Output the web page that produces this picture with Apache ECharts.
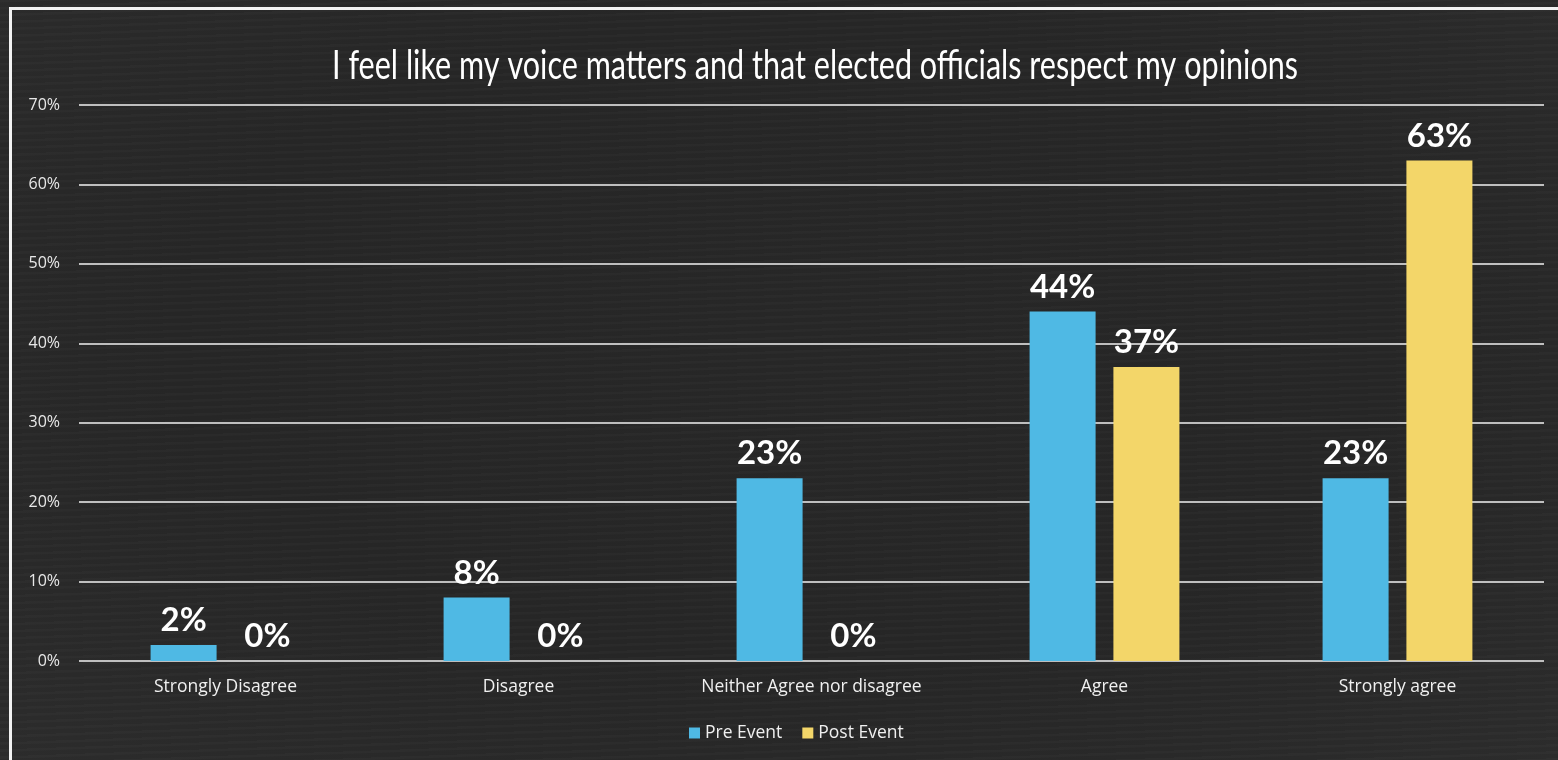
<!DOCTYPE html>
<html>
<head>
<meta charset="utf-8">
<script src="https://cdn.jsdelivr.net/npm/echarts@6/dist/echarts.min.js"></script>
<style>
  html, body { margin: 0; padding: 0; width: 1558px; height: 760px; overflow: hidden;
    background:
      repeating-linear-gradient(178deg, rgba(255,255,255,0.018) 0px, rgba(255,255,255,0.018) 2px, rgba(0,0,0,0) 3px, rgba(0,0,0,0) 7px),
      radial-gradient(ellipse at 50% 45%, #272727 0%, #262626 55%, #2c2c2c 100%); }
  #frame { position: absolute; left: 9px; top: 7px; width: 1580px; height: 800px;
    border: 3px solid #f2f2f2; box-sizing: border-box; }
  #chart { position: absolute; left: 0; top: 0; width: 1558px; height: 760px; }
</style>
</head>
<body>
<div id="frame"></div>
<div id="chart"></div>
<script>
const titleText = 'I feel like my voice matters and that elected officials respect my opinions';
const categories = ['Strongly Disagree', 'Disagree', 'Neither Agree nor disagree', 'Agree', 'Strongly agree'];
const seriesNames = ['Pre Event', 'Post Event'];
const preEvent = [2, 8, 23, 44, 23];
const postEvent = [0, 0, 0, 37, 63];
const yTicks = { min: 0, max: 70, interval: 10 };

// condensed title: measure the natural width and squeeze horizontally to the reference width
const titleFont = '40px Lato';
const mctx = document.createElement('canvas').getContext('2d');
mctx.font = titleFont;
const titleNatural = mctx.measureText(titleText).width;
const titleScale = 966 / titleNatural;

const chart = echarts.init(document.getElementById('chart'), null, { renderer: 'canvas' });
const labelStyle = {
  show: true, position: 'top', distance: 8,
  formatter: '{c}%', color: '#ffffff', fontSize: 33, fontWeight: 'bold',
  fontFamily: 'Lato'
};
chart.setOption({
  backgroundColor: 'transparent',
  animation: false,
  graphic: [{
    type: 'text', x: 815, y: 66, scaleX: titleScale,
    style: { text: titleText, font: titleFont, fill: '#ffffff', align: 'center', verticalAlign: 'middle' }
  }],
  legend: {
    data: seriesNames, bottom: 13, left: 684,
    itemWidth: 11, itemHeight: 11, itemGap: 20, icon: 'rect',
    textStyle: { color: '#f0f0f0', fontSize: 17.5, fontFamily: 'Open Sans' }
  },
  grid: { left: 79, right: 14, top: 105, bottom: 99, containLabel: false },
  xAxis: {
    type: 'category', data: categories,
    axisLine: { show: false }, axisTick: { show: false },
    axisLabel: { color: '#f0f0f0', fontSize: 17.5, fontFamily: 'Open Sans', margin: 17, interval: 0 }
  },
  yAxis: {
    type: 'value', min: yTicks.min, max: yTicks.max, interval: yTicks.interval,
    axisLine: { show: false }, axisTick: { show: false },
    axisLabel: { color: '#e8e8e8', fontSize: 16, fontFamily: 'Open Sans', formatter: '{value}%', margin: 19 },
    splitLine: { lineStyle: { color: '#f2f2f2', width: 1.5 } }
  },
  series: [
    { name: seriesNames[0], type: 'bar', data: preEvent, barWidth: 66, barGap: '27%',
      itemStyle: { color: '#4fb9e4' }, label: labelStyle },
    { name: seriesNames[1], type: 'bar', data: postEvent, barWidth: 66,
      itemStyle: { color: '#f3d669' }, label: labelStyle }
  ]
});
</script>
</body>
</html>
